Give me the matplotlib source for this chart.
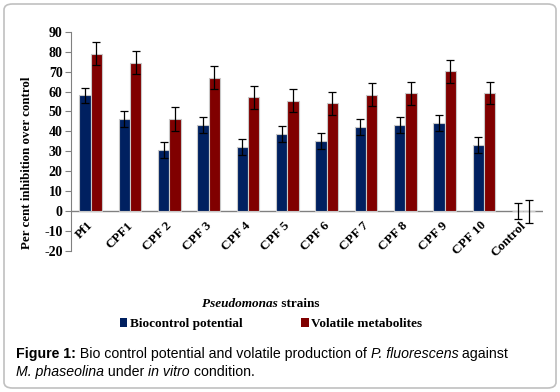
import matplotlib
matplotlib.use("Agg")
import matplotlib.pyplot as plt
import numpy as np
from matplotlib.patches import FancyBboxPatch, Patch
from matplotlib.offsetbox import TextArea, HPacker, VPacker, AnnotationBbox

categories = ["Pf1", "CPF1", "CPF 2", "CPF 3", "CPF 4", "CPF 5", "CPF 6",
              "CPF 7", "CPF 8", "CPF 9", "CPF 10", "Control"]
biocontrol = [58, 46, 30.6, 43, 32, 38.6, 35, 42, 43.3, 44, 33, 0]
biocontrol_err = [4, 4, 4, 4, 4, 4, 4, 4, 4, 4, 4, 4]
volatile = [79, 74.5, 46, 67, 57, 55.4, 54.2, 58.4, 59.2, 70.2, 59.4, 0]
volatile_err = [5.6, 5.6, 6, 5.7, 5.7, 5.7, 5.8, 5.7, 5.8, 5.8, 5.6, 5.8]
yticks = list(range(-20, 91, 10))

blue = "#002060"
red = "#800000"

fig = plt.figure(figsize=(5.6, 3.92), dpi=100)
fig.patch.set_facecolor("white")
border = FancyBboxPatch((4 / 560, 4 / 392), 552 / 560, 384 / 392,
                        boxstyle="round,pad=0,rounding_size=0.015",
                        transform=fig.transFigure, facecolor="none",
                        edgecolor="#c0c0c0", linewidth=1.2, zorder=-1)
fig.patches.append(border)

ax = fig.add_axes([71 / 560, 1 - 251 / 392, 472 / 560, (251 - 31.7) / 392])
ax.set_zorder(2)
ax.set_facecolor("none")
x = np.arange(len(categories)) + 0.5
w = 0.29
eb = dict(ecolor="black", elinewidth=0.9, capsize=3, capthick=0.9)
ax.bar(x - w / 2, biocontrol, w, yerr=biocontrol_err, color=blue,
       edgecolor="#c8c8c8", linewidth=0.8, error_kw=eb, zorder=2)
ax.bar(x + w / 2, volatile, w, yerr=volatile_err, color=red,
       edgecolor="#c8c8c8", linewidth=0.8, error_kw=eb, zorder=2)
ax.set_xlim(0, len(categories))
ax.set_ylim(-20, 90)
ax.set_yticks(yticks)
ax.set_yticklabels([str(t) for t in yticks], fontfamily="Liberation Serif",
                   fontweight="bold", fontsize=10)
for s in ["top", "right", "bottom"]:
    ax.spines[s].set_visible(False)
ax.spines["left"].set_color("#808080")
ax.axhline(0, color="#808080", linewidth=1, zorder=1)
ax.tick_params(axis="y", direction="out", length=4, color="#808080", pad=2)
ax.set_xticks([])
for xi, lab in zip(x, categories):
    ax.annotate(lab, xy=(xi, 0), xycoords=("data", "data"),
                xytext=(-2.5, -6), textcoords="offset points",
                rotation=45, ha="right", va="top", rotation_mode="anchor",
                fontfamily="Liberation Serif", fontweight="bold", fontsize=9.5,
                annotation_clip=False)
ax.set_ylabel("Per cent inhibition over control", fontfamily="Liberation Serif",
              fontweight="bold", fontsize=9.3)
ax.yaxis.set_label_coords((33 - 71) / 472, (251 - 163) / 219.3)

# x-axis label with italic part
ta1 = TextArea("Pseudomonas", textprops=dict(fontfamily="Liberation Serif",
               fontweight="bold", fontstyle="italic", fontsize=9.5))
ta2 = TextArea(" strains", textprops=dict(fontfamily="Liberation Serif",
               fontweight="bold", fontsize=9.5))
hp = HPacker(children=[ta1, ta2], pad=0, sep=0, align="baseline")
ab = AnnotationBbox(hp, (261, 392 - 304), xycoords="figure pixels",
                    frameon=False, box_alignment=(0.5, 0.5))
fig.add_artist(ab)

handles = [Patch(facecolor=blue, edgecolor="none", label="Biocontrol potential"),
           Patch(facecolor=red, edgecolor="none", label="Volatile metabolites")]
fig.legend(handles=handles, loc="center", bbox_to_anchor=(271 / 560, 1 - 324 / 392),
           ncol=2, frameon=False, handlelength=0.6, handleheight=0.6,
           handletextpad=0.2, columnspacing=4.4,
           prop=dict(family="Liberation Serif", weight="bold", size=9.5))

cap_kw = dict(fontfamily="Liberation Sans", fontsize=10.2)
def ta(t, **kw):
    d = dict(cap_kw)
    d.update(kw)
    return TextArea(t, textprops=d)

line1 = HPacker(children=[ta("Figure 1:", fontweight="bold"),
                          ta(" Bio control potential and volatile production of "),
                          ta("P. fluorescens", fontstyle="italic"),
                          ta(" against")], pad=0, sep=0, align="baseline")
line2 = HPacker(children=[ta("M. phaseolina", fontstyle="italic"),
                          ta(" under "),
                          ta("in vitro", fontstyle="italic"),
                          ta(" condition.")], pad=0, sep=0, align="baseline")
vp = VPacker(children=[line1, line2], pad=0, sep=3, align="left")
ab2 = AnnotationBbox(vp, (16, 392 - 347), xycoords="figure pixels",
                     frameon=False, box_alignment=(0, 1))
fig.add_artist(ab2)

fig.savefig("out.png", dpi=100, facecolor="white")
